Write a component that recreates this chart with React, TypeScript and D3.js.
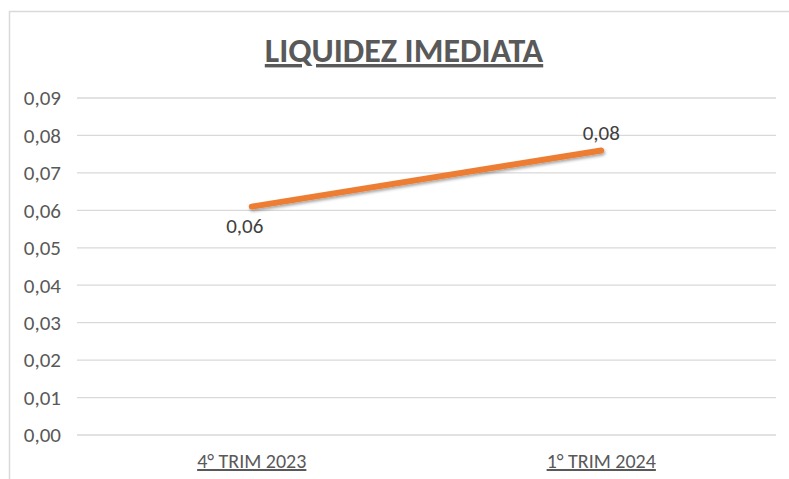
import { useRef, useEffect } from 'react';
import * as d3 from 'd3';

const categories = ['4° TRIM 2023', '1° TRIM 2024'];
const values = [0.061, 0.076];
const valueLabels = ['0,06', '0,08'];
const yTicks = [0, 0.01, 0.02, 0.03, 0.04, 0.05, 0.06, 0.07, 0.08, 0.09];

export default function App() {
    const svgRef = useRef<SVGSVGElement | null>(null);

    useEffect(() => {
        const svg = d3.select(svgRef.current);
        svg.selectAll('*').remove();
        const W = 789;
        const H = 479;
        const margin = { top: 98, right: 13, bottom: 44, left: 77 };
        const width = W - margin.left - margin.right;
        const height = H - margin.top - margin.bottom;
        const font = 'Carlito, Calibri, "Open Sans", sans-serif';

        svg.append('rect').attr('width', W).attr('height', H).attr('fill', '#fff');
        // borda da área do gráfico
        svg.append('path')
            .attr('d', `M9.5,${H} V11.5 H${W}`)
            .attr('fill', 'none')
            .attr('stroke', '#d9d9d9')
            .attr('stroke-width', 1.5);

        // título
        svg.append('text')
            .attr('x', 404)
            .attr('y', 62)
            .attr('text-anchor', 'middle')
            .style('font-family', font)
            .style('font-size', '34px')
            .style('font-weight', 'bold')
            .style('text-decoration', 'underline')
            .style('fill', '#595959')
            .text('LIQUIDEZ IMEDIATA');

        const g = svg.append('g').attr('transform', `translate(${margin.left}, ${margin.top})`);

        const x = d3.scaleBand().domain(categories).range([0, width]);
        const y = d3.scaleLinear().domain([0, 0.09]).range([height, 0]);

        // linhas de grade
        g.selectAll('.grid')
            .data(yTicks)
            .enter()
            .append('line')
            .attr('x1', 0)
            .attr('x2', width)
            .attr('y1', d => y(d))
            .attr('y2', d => y(d))
            .attr('stroke', '#d9d9d9')
            .attr('stroke-width', 1.3);

        // rótulos do eixo y
        g.selectAll('.ylab')
            .data(yTicks)
            .enter()
            .append('text')
            .attr('x', -16)
            .attr('y', d => y(d))
            .attr('dy', '0.35em')
            .attr('text-anchor', 'end')
            .style('font-family', font)
            .style('font-size', '21px')
            .style('fill', '#595959')
            .text(d => d.toFixed(2).replace('.', ','));

        // rótulos do eixo x
        g.selectAll('.xlab')
            .data(categories)
            .enter()
            .append('text')
            .attr('x', d => (x(d) ?? 0) + x.bandwidth() / 2)
            .attr('y', height + 33)
            .attr('text-anchor', 'middle')
            .style('font-family', font)
            .style('font-size', '20px')
            .style('text-decoration', 'underline')
            .style('fill', '#595959')
            .text(d => d);

        // sombra da linha
        const defs = svg.append('defs');
        const f = defs.append('filter').attr('id', 'sh').attr('x', '-10%').attr('y', '-50%').attr('width', '120%').attr('height', '200%');
        f.append('feDropShadow').attr('dx', 1).attr('dy', 2).attr('stdDeviation', 1.5).attr('flood-color', '#000').attr('flood-opacity', 0.35);

        const line = d3.line<number>()
            .x((_, i) => (x(categories[i]) ?? 0) + x.bandwidth() / 2)
            .y(d => y(d));

        g.append('path')
            .datum(values)
            .attr('d', line)
            .attr('fill', 'none')
            .attr('stroke', '#ED7D31')
            .attr('stroke-width', 6)
            .attr('stroke-linecap', 'round')
            .attr('filter', 'url(#sh)');

        // rótulos de dados
        g.selectAll('.dlab')
            .data(values)
            .enter()
            .append('text')
            .attr('x', (_, i) => (x(categories[i]) ?? 0) + x.bandwidth() / 2 - (i === 0 ? 7 : 0))
            .attr('y', (d, i) => y(d) + (i === 0 ? 26 : -10))
            .attr('text-anchor', 'middle')
            .style('font-family', font)
            .style('font-size', '21px')
            .style('fill', '#404040')
            .text((_, i) => valueLabels[i]);
    }, []);

    return (
        <svg
            ref={svgRef}
            width={789}
            height={479}
            style={{ position: 'fixed', top: 0, left: 0, display: 'block' }}
        ></svg>
    );
}
